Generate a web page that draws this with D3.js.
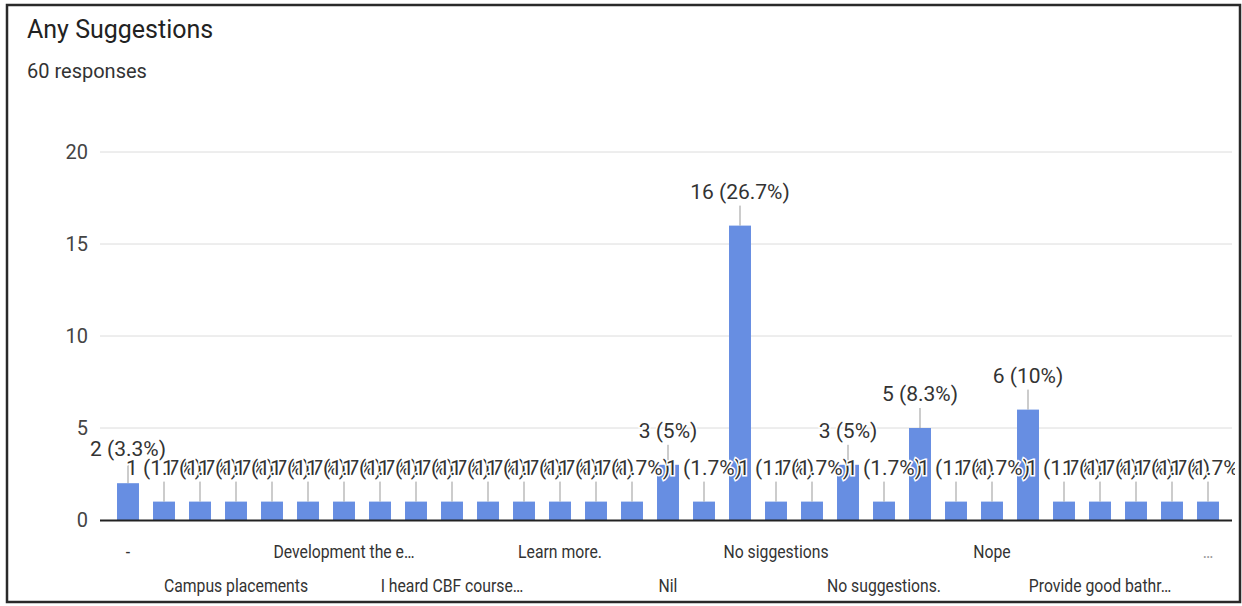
<!DOCTYPE html>
<html>
<head>
<meta charset="utf-8">
<script src="https://cdn.jsdelivr.net/npm/d3@7"></script>
<style>
  html, body { margin: 0; padding: 0; background: #fff; }
  svg { display: block; }
  text { font-family: Roboto, "Liberation Sans", Arial, sans-serif; }
</style>
</head>
<body>
<svg id="chart" width="1242" height="606"></svg>
<script>
// ---- data ----
const categories = [
  "-", "Add more courses", "Better infrastructure", "Campus placements",
  "Canteen facilities", "Conduct more events", "Development the e…",
  "Good", "Good college", "I heard CBF course…", "Improve library",
  "It's good", "Learn more.", "More practical sessions", "NA", "Nil",
  "Nil.", "No", "No siggestions", "No suggestion", "No suggestions",
  "No suggestions.", "No.", "None", "Nope", "Nothing", "Nothing.",
  "Provide good bathr…", "Sports facilities", "Teaching is good", "…"
];
const counts = [
  2, 1, 1, 1, 1, 1, 1, 1, 1, 1, 1, 1, 1, 1, 1, 3,
  1, 16, 1, 1, 3, 1, 5, 1, 1, 6, 1, 1, 1, 1, 1
];
const totalResponses = 60;
const yTicks = [0, 5, 10, 15, 20];
const titleText = "Any Suggestions";
const subtitleText = "60 responses";

// ---- layout ----
const svg = d3.select("#chart");

svg.append("defs").append("clipPath").attr("id", "plotclip")
  .append("rect").attr("x", 9).attr("y", 90).attr("width", 1226).attr("height", 440);

svg.append("rect")
  .attr("x", 7).attr("y", 5).attr("width", 1233).attr("height", 597)
  .attr("fill", "#fff").attr("stroke", "#2a2a2a").attr("stroke-width", 2.5);

svg.append("text").attr("x", 27).attr("y", 38)
  .attr("font-size", 25).attr("fill", "#222").text(titleText);
svg.append("text").attr("x", 27).attr("y", 78)
  .attr("font-size", 20).attr("fill", "#333").text(subtitleText);

const x = d3.scaleBand().domain(categories).range([110, 1226]).paddingInner(0.39).paddingOuter(0.195);
const y = d3.scaleLinear().domain([0, 20]).range([520, 152]);

// gridlines
svg.append("g").selectAll("line").data(yTicks.filter(d => d > 0)).join("line")
  .attr("x1", 100).attr("x2", 1232)
  .attr("y1", d => y(d)).attr("y2", d => y(d))
  .attr("stroke", "#dcdcdc").attr("stroke-width", 1);

// y axis labels
const yAxis = d3.axisLeft(y).tickValues(yTicks).tickSize(0).tickPadding(0);
const gy = svg.append("g").attr("transform", "translate(88,0)").call(yAxis);
gy.select(".domain").remove();
gy.selectAll("text").attr("font-size", 20).attr("fill", "#444")
  .attr("font-family", null);

// bars
svg.append("g").selectAll("rect").data(categories).join("rect")
  .attr("x", d => x(d)).attr("width", x.bandwidth())
  .attr("y", (d, i) => y(counts[i]))
  .attr("height", (d, i) => y(0) - y(counts[i]))
  .attr("fill", "#678ee2");

// baseline
svg.append("line").attr("x1", 100).attr("x2", 1232)
  .attr("y1", y(0) + 0.5).attr("y2", y(0) + 0.5)
  .attr("stroke", "#222").attr("stroke-width", 2);

// annotations
const fmtPct = v => {
  const p = v / totalResponses * 100;
  const r = Math.round(p * 10) / 10;
  return (Number.isInteger(r) ? r.toFixed(0) : r.toFixed(1)) + "%";
};
const ann = svg.append("g").attr("clip-path", "url(#plotclip)");
categories.forEach((c, i) => {
  const cx = x(c) + x.bandwidth() / 2;
  const top = y(counts[i]);
  ann.append("line").attr("x1", cx).attr("x2", cx)
    .attr("y1", top).attr("y2", top - 20)
    .attr("stroke", "#999").attr("stroke-width", 1);
});
categories.forEach((c, i) => {
  const cx = x(c) + x.bandwidth() / 2;
  const top = y(counts[i]);
  ann.append("text").attr("x", cx).attr("y", top - 27)
    .attr("text-anchor", "middle").attr("font-size", 21).attr("fill", "#333")
    .attr("stroke", "#fff").attr("stroke-width", 3).attr("paint-order", "stroke")
    .text(counts[i] + " (" + fmtPct(counts[i]) + ")");
});

// x labels (every third, two rows), slightly condensed
const xl = svg.append("g");
categories.forEach((c, i) => {
  if (i % 3 !== 0) return;
  const k = i / 3;
  const cx = x(c) + x.bandwidth() / 2;
  const cy = k % 2 === 0 ? 558 : 592;
  xl.append("g").attr("transform", `translate(${cx},${cy}) scale(0.83,1)`)
    .append("text")
    .attr("text-anchor", "middle").attr("font-size", 19)
    .attr("fill", c === "…" ? "#999" : "#333")
    .text(c);
});
</script>
</body>
</html>
